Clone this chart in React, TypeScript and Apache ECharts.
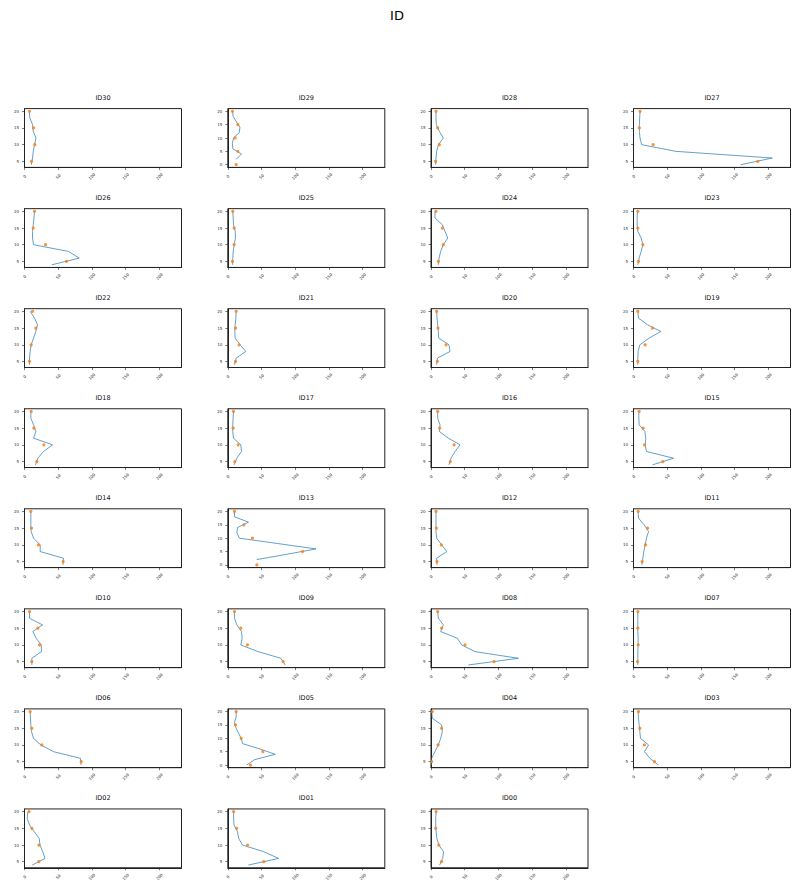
import { useEffect, useRef } from "react";
import * as echarts from "echarts";

const mainTitle = "ID";
const panelIds = [
  "ID30", "ID29", "ID28", "ID27",
  "ID26", "ID25", "ID24", "ID23",
  "ID22", "ID21", "ID20", "ID19",
  "ID18", "ID17", "ID16", "ID15",
  "ID14", "ID13", "ID12", "ID11",
  "ID10", "ID09", "ID08", "ID07",
  "ID06", "ID05", "ID04", "ID03",
  "ID02", "ID01", "ID00",
];

// depth of the first (lowest) vertex of each profile line; vertices every 2 units
const lineStartDepth = [
  4, 2, 4, 4,
  4, 4, 4, 4,
  4, 4, 4, 4,
  4, 4, 4, 4,
  4, 2, 4, 4,
  4, 4, 4, 4,
  4, 0, 4, 4,
  4, 4, 4,
];
const lineStep = 2;

// profile values, from the lowest depth upwards
const lineValues: number[][] = [
  [10, 12, 13, 15, 17, 13, 12, 8, 7],
  [12.4, 20.3, 7.4, 6.9, 8.4, 17, 18, 13, 8, 7],
  [6.9, 7.4, 8.4, 10.9, 18.3, 12.4, 7.9, 7.4, 7.4],
  [159, 206, 63, 12.1, 9.7, 8.7, 8.7, 9.2, 9.7],
  [40.6, 81.2, 65.3, 13.4, 11.9, 12, 13, 14, 14.9],
  [7, 7.5, 8, 9.4, 11.4, 11, 8.5, 8, 7.4],
  [10.9, 11.9, 14.4, 18.3, 24.8, 20.8, 16.8, 5.9, 5.9],
  [6.4, 8.4, 11.4, 13.9, 11.4, 6.4, 5.4, 5.4, 5.9],
  [7.4, 7.4, 8.4, 10, 13.4, 16.8, 19.3, 14.9, 8.4],
  [10, 12.4, 26.7, 18.3, 10.9, 10.4, 10.9, 12, 12.4],
  [8.4, 9.4, 28.2, 26.7, 11.4, 10.9, 9.9, 8.9, 8.4],
  [6.4, 6.4, 6.9, 9.4, 23.3, 40.6, 20.8, 7.4, 6.4],
  [16.3, 19.8, 28.2, 41.6, 13.4, 16.8, 13.4, 9.4, 9.4],
  [9.4, 13.4, 20.3, 19.3, 8.4, 7.4, 7.4, 7.9, 8.4],
  [26.7, 29.7, 35.6, 43.1, 25.7, 12.4, 13.4, 9.9, 9.9],
  [28.2, 59.4, 19.3, 17.3, 18.3, 16.8, 8.4, 7.9, 7.9],
  [57, 57.9, 23.3, 23.3, 13.4, 9.9, 9.4, 9.4, 9.4],
  [43.1, 88, 131, 74, 17.3, 13.4, 14.4, 30.7, 9.9, 9.9],
  [8.9, 8.4, 23.3, 15.8, 8.4, 7.4, 7.4, 7.4, 7.4],
  [12.4, 13.9, 15.3, 17.3, 19.3, 22.3, 15.8, 7.4, 6.9],
  [10.9, 10.9, 25.2, 24.8, 17.3, 12.4, 26.7, 7.4, 7.4],
  [85.1, 78.7, 45, 19.3, 21.3, 20.3, 13.4, 9.9, 9.9],
  [55.4, 129.7, 65.3, 45.5, 39.1, 14.4, 18.3, 10.9, 9.9],
  [6.4, 6.4, 6.4, 6.9, 6.9, 6.4, 6.4, 6.4, 6.4],
  [84, 83, 43, 24.3, 13.4, 10.4, 9.4, 8.9, 8.4],
  [28.2, 39.6, 70.3, 48, 22, 19.8, 15.8, 11.9, 9.9, 12.4, 12.4],
  [0.5, 1, 5.9, 10.9, 14.4, 16.8, 15.8, 2, 1],
  [37.1, 24.3, 16.3, 22.3, 10.4, 9.4, 8.4, 7.4, 6.9],
  [11.5, 30.5, 27, 23, 21.8, 14.4, 7.5, 4, 5],
  [30.5, 75.3, 53.4, 21.8, 16.1, 14.4, 9.2, 8.6, 8.6],
  [12.8, 17.4, 18.6, 11.6, 8.7, 7.6, 7, 7, 7.6],
];

// sample points (orange markers) at depths 5,10,15,20 (0,5,10,15,20 when five values)
const markerDepths4 = [5, 10, 15, 20];
const markerDepths5 = [0, 5, 10, 15, 20];
const markerValues: number[][] = [
  [10.4, 15.3, 13.4, 7.4],
  [12.4, 14.9, 10.9, 14.9, 6.9],
  [6.9, 12.4, 9.9, 7.4],
  [184.5, 29.1, 8.7, 9.7],
  [62.4, 31.2, 12.9, 14.9],
  [6.9, 9.4, 9.4, 7.4],
  [10.9, 18.3, 16.8, 7.4],
  [7.4, 13.9, 6.4, 6.4],
  [7.4, 9.9, 16.8, 11.9],
  [11.4, 16.8, 11.4, 12.4],
  [9.4, 22.3, 10.4, 8.4],
  [6.4, 17.3, 28.2, 6.4],
  [18.3, 28.7, 13.9, 9.9],
  [10.4, 15.3, 7.9, 8.4],
  [28.7, 34.2, 12.9, 9.9],
  [43.6, 16.3, 14.4, 8.4],
  [57.4, 20.8, 10.4, 9.4],
  [43.1, 110.9, 36.6, 23.8, 9.9],
  [8.9, 15.3, 7.9, 7.4],
  [12.9, 17.8, 20.8, 6.9],
  [10.9, 22.3, 19.8, 7.4],
  [82.2, 29.2, 19.3, 9.9],
  [93.6, 50.5, 15.8, 9.9],
  [5.9, 6.9, 6.4, 6.4],
  [84.2, 25.7, 10.9, 8.4],
  [33.7, 52, 19.8, 11.4, 12.4],
  [1, 10.4, 15.8, 2],
  [31.2, 16.3, 9.4, 7.4],
  [21.3, 21.3, 10.9, 6.9],
  [53.4, 29.3, 13.2, 8.6],
  [15.7, 11.6, 7, 7.6],
];

const xTicks = [0, 50, 100, 150, 200];
const xMax = 233;
const yTicks4 = [5, 10, 15, 20];
const yTicks5 = [0, 5, 10, 15, 20];

export default function App() {
  const ref = useRef<HTMLDivElement>(null);
  useEffect(() => {
    document.body.style.margin = "0";
    const chart = echarts.init(ref.current!, null, { renderer: "svg" });
    const cols = 4;
    const colLeft = [24.5, 227.8, 431, 633.5];
    const gw = 157;
    const gh = 58.8;
    const top0 = 108.6;
    const rowStep = 100.05;
    const font = "DejaVu Sans";

    const grids: any[] = [];
    const xAxes: any[] = [];
    const yAxes: any[] = [];
    const series: any[] = [];
    const graphics: any[] = [
      {
        type: "text",
        x: 397,
        y: 15,
        style: { text: mainTitle, fontSize: 13, fontFamily: font, fill: "#000", textAlign: "center", textVerticalAlign: "middle" },
      },
    ];

    panelIds.forEach((id, i) => {
      const r = Math.floor(i / cols);
      const c = i % cols;
      const left = colLeft[c];
      const top = top0 + rowStep * r;
      grids.push({ left, top, width: gw, height: gh, show: true, borderColor: "#222", borderWidth: 1, backgroundColor: "#fff" });
      graphics.push({
        type: "text",
        x: left + gw / 2,
        y: top - 10.5,
        style: { text: id, fontSize: 6.5, fontFamily: font, fill: "#111", textAlign: "center", textVerticalAlign: "middle" },
      });
      const mDepths = markerValues[i].length === 5 ? markerDepths5 : markerDepths4;
      const lData = lineValues[i].map((v, k) => [v, lineStartDepth[i] + lineStep * k]);
      const mData = markerValues[i].map((v, k) => [v, mDepths[k]]);
      const allDepths = lData.map((d) => d[1]).concat(mDepths);
      const dMin = Math.min(...allDepths);
      const dMax = Math.max(...allDepths);
      const pad = (dMax - dMin) * 0.05;
      const yT = dMin < 4 ? yTicks5 : yTicks4;
      xAxes.push({
        type: "value",
        gridIndex: i,
        min: 0,
        max: xMax,
        splitLine: { show: false },
        axisLine: { show: true, onZero: false, lineStyle: { color: "#222", width: 1 } },
        axisTick: { show: true, inside: false, length: 2.5, customValues: xTicks, lineStyle: { color: "#222", width: 0.6 } },
        axisLabel: {
          show: true,
          customValues: xTicks,
          rotate: 45,
          align: "center",
          verticalAlign: "middle",
          margin: 9,
          fontSize: 4,
          color: "#444",
          fontFamily: font,
        },
      });
      yAxes.push({
        type: "value",
        gridIndex: i,
        min: dMin - pad,
        max: dMax + pad,
        splitLine: { show: false },
        axisLine: { show: true, onZero: false, lineStyle: { color: "#222", width: 1 } },
        axisTick: { show: true, inside: false, length: 2.5, customValues: yT, lineStyle: { color: "#222", width: 0.6 } },
        axisLabel: { show: true, customValues: yT, margin: 5.5, fontSize: 4, color: "#333", fontFamily: font },
      });
      series.push({
        type: "line",
        xAxisIndex: i,
        yAxisIndex: i,
        data: lData,
        showSymbol: false,
        symbol: "none",
        lineStyle: { color: "#1f77b4", width: 0.7 },
        silent: true,
        z: 2,
      });
      series.push({
        type: "scatter",
        xAxisIndex: i,
        yAxisIndex: i,
        data: mData,
        symbol: "circle",
        symbolSize: 3.2,
        itemStyle: { color: "#ff7f0e", opacity: 0.85 },
        silent: true,
        z: 3,
      });
    });

    chart.setOption({
      animation: false,
      backgroundColor: "#fff",
      grid: grids,
      xAxis: xAxes,
      yAxis: yAxes,
      series,
      graphic: graphics,
    });
    return () => chart.dispose();
  }, []);
  return <div ref={ref} style={{ width: 800, height: 894 }} />;
}
